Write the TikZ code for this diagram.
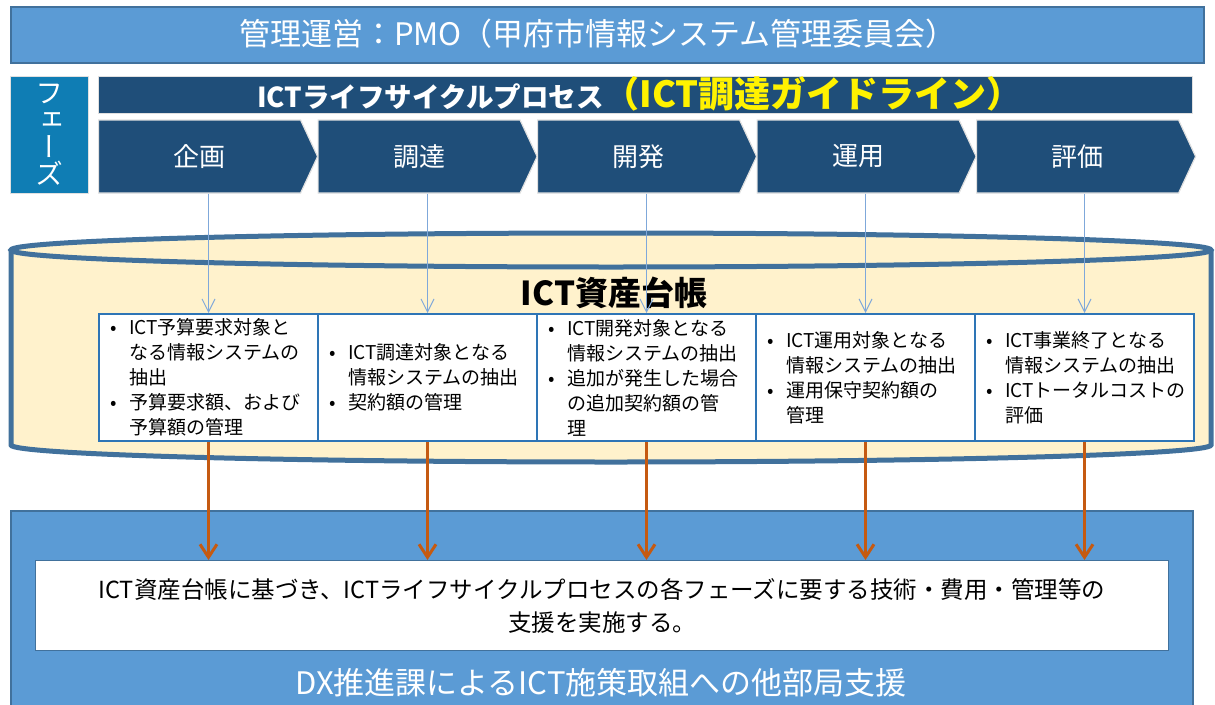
\documentclass[tikz,border=0pt]{standalone}
\usepackage{fontspec}
\setmainfont{Noto Sans CJK JP}
\newfontfamily\vjp[RawFeature=+vert]{Noto Sans CJK JP}
\usetikzlibrary{arrows.meta,shapes.symbols}
\definecolor{banner}{HTML}{5B9BD5}
\definecolor{bannerline}{HTML}{41719C}
\definecolor{phaseteal}{HTML}{0F7DB4}
\definecolor{navy}{HTML}{1F4E79}
\definecolor{cream}{HTML}{FFF2CC}
\definecolor{boxline}{HTML}{2E75B6}
\definecolor{thinblue}{HTML}{7FA8DA}
\definecolor{orng}{HTML}{C55A11}
\newcommand\bitem{\makebox[19pt][l]{•}}
\newcommand\bcont{\hspace*{19pt}}
\tikzset{
  phasestep/.style={signal, signal to=east, signal from=nowhere, signal pointer angle=130,
    fill=navy, draw=black!12, line width=1.2, minimum width=219, minimum height=73,
    inner sep=0, text=white, font=\fontsize{26}{26}\selectfont, anchor=west},
  infobox/.style={draw=boxline, fill=white, line width=2, minimum height=127,
    text width=197, inner xsep=11, inner ysep=0, align=left, anchor=north west,
    font=\fontsize{19}{25}\selectfont},
  thinarrow/.style={draw=thinblue, line width=1, -{Straight Barb[length=13pt,width=13pt]}},
  orarrow/.style={draw=orng, line width=3, -{Straight Barb[length=13pt,width=17pt]}},
}
\begin{document}
\begin{tikzpicture}[x=1pt,y=-1pt]
\useasboundingbox (0,0) rectangle (1215,704);
% top banner
\node[fill=banner, draw=bannerline, line width=2, minimum width=1193, minimum height=56,
  anchor=north west, inner sep=0] (pmo) at (10,6) {};
\node[text=white, font=\fontsize{31}{31}\selectfont] (pmotext) at (598,34)
  {管理運営：PMO（甲府市情報システム管理委員会）};
% phase box
\node[fill=phaseteal, draw=black!12, line width=1.2, minimum width=78, minimum height=117,
  anchor=north west, inner sep=0] (phasebox) at (10,76) {};
\node[text=white, align=center, font=\vjp\fontsize{28}{27}\selectfont] (phasetext)
  at (phasebox.center) {フ\\ェ\\ー\\ズ};
% header bar
\node[fill=navy, draw=black!12, line width=1.2, minimum width=1094, minimum height=37,
  anchor=north west, inner sep=0] (hdr) at (98,76) {};
\node[anchor=base, inner sep=0] (hdrtext) at (640,107)
  {\color{white}\bfseries\fontsize{27.5}{27.5}\selectfont ICTライフサイクルプロセス\color{yellow}\fontsize{36}{36}\selectfont（ICT調達ガイドライン）};
% chevrons
\node[phasestep] (c1) at (98,156.5) {企画};
\node[phasestep] (c2) at (317.5,156.5) {調達};
\node[phasestep] (c3) at (537,156.5) {開発};
\node[phasestep] (c4) at (756.5,156.5) {運用};
\node[phasestep] (c5) at (976,156.5) {評価};
% cylinder
\fill[cream] (11,250) -- (11,445) arc[start angle=180, end angle=0, x radius=600, y radius=17]
  -- (1211,250) -- cycle;
\draw[bannerline, line width=5] (11,250) -- (11,445)
  arc[start angle=180, end angle=0, x radius=600, y radius=17] -- (1211,250);
\draw[bannerline, line width=5, fill=cream] (611,250) ellipse[x radius=600, y radius=17];
\node[font=\bfseries\fontsize{33}{33}\selectfont] (ledger) at (614,293) {ICT資産台帳};
% info boxes
\node[infobox] (b1) at (98,313) {\bitem ICT予算要求対象と\\\bcont なる情報システムの\\\bcont 抽出\\\bitem 予算要求額、および\\\bcont 予算額の管理};
\node[infobox] (b2) at (317,313) {\bitem ICT調達対象となる\\\bcont 情報システムの抽出\\\bitem 契約額の管理};
\node[infobox] (b3) at (536,313) {\bitem ICT開発対象となる\\\bcont 情報システムの抽出\\\bitem 追加が発生した場合\\\bcont の追加契約額の管\\\bcont 理};
\node[infobox] (b4) at (755,313) {\bitem ICT運用対象となる\\\bcont 情報システムの抽出\\\bitem 運用保守契約額の\\\bcont 管理};
\node[infobox] (b5) at (974,313) {\bitem ICT事業終了となる\\\bcont 情報システムの抽出\\\bitem ICTトータルコストの\\\bcont 評価};
% thin arrows
\foreach \i in {1,...,5} \draw[thinarrow] (c\i.south -| b\i.north) -- (b\i.north);
% bottom support box
\node[fill=banner, draw=bannerline, line width=1.5, minimum width=1182, minimum height=210,
  anchor=north west, inner sep=0] (support) at (10,510) {};
\node[fill=white, draw=bannerline, line width=1, minimum width=1133, minimum height=90,
  anchor=north west, inner sep=0] (basis) at (35,560) {};
\node[align=center, font=\fontsize{23.5}{33}\selectfont] (basistext) at (basis.center)
  {ICT資産台帳に基づき、ICTライフサイクルプロセスの各フェーズに要する技術・費用・管理等の\\支援を実施する。};
\node[text=white, font=\fontsize{31}{31}\selectfont] (supporttext) at (601,683)
  {DX推進課によるICT施策取組への他部局支援};
% orange arrows
\foreach \i in {1,...,5} \draw[orarrow] (b\i.south) -- (b\i.south |- basis.north);
\end{tikzpicture}
\end{document}
